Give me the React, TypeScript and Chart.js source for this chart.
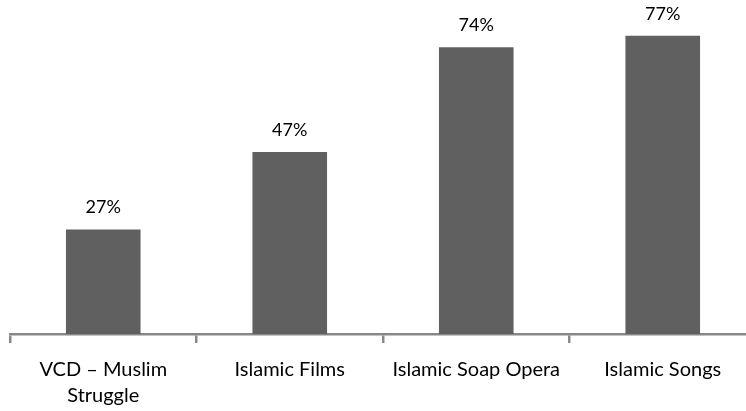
import React, { useEffect, useRef } from "react";
import { Chart, registerables } from "chart.js";

Chart.register(...registerables);

const categories: (string | string[])[] = [
  ["VCD – Muslim", "Struggle"],
  "Islamic Films",
  "Islamic Soap Opera",
  "Islamic Songs",
];
const values: number[] = [27, 47, 74, 77];
const valueLabels: string[] = ["27%", "47%", "74%", "77%"];

const barColor = "#606060";
const axisColor = "#888888";
const fontFamily = "Lato, 'Open Sans', sans-serif";

const dataLabelPlugin = {
  id: "dataLabels",
  afterDatasetsDraw(chart: any) {
    const ctx = chart.ctx;
    const meta = chart.getDatasetMeta(0);
    ctx.save();
    ctx.font = `18px ${fontFamily}`;
    ctx.fillStyle = "#000000";
    ctx.textAlign = "center";
    ctx.textBaseline = "alphabetic";
    meta.data.forEach((bar: any, i: number) => {
      ctx.fillText(valueLabels[i], bar.x, bar.y - 16);
    });
    ctx.restore();
  },
};

export default function App() {
  const canvasRef = useRef<HTMLCanvasElement | null>(null);

  useEffect(() => {
    if (!canvasRef.current) return;
    const chart = new Chart(canvasRef.current, {
      type: "bar",
      data: {
        labels: categories,
        datasets: [
          {
            data: values,
            backgroundColor: barColor,
            borderWidth: 0,
            barPercentage: 0.4,
            categoryPercentage: 1.0,
          },
        ],
      },
      options: {
        animation: false,
        responsive: true,
        maintainAspectRatio: false,
        layout: { padding: { left: 10, right: 10, top: 24, bottom: 0 } },
        plugins: {
          legend: { display: false },
          tooltip: { enabled: false },
        },
        scales: {
          y: {
            display: false,
            min: 0,
            max: 80,
          },
          x: {
            afterFit(scale: any) {
              scale.height = 77;
            },
            border: { display: true, color: axisColor, width: 2.5 },
            grid: {
              display: true,
              drawOnChartArea: false,
              drawTicks: true,
              tickLength: 9,
              color: axisColor,
              lineWidth: 2.5,
              offset: true,
            },
            ticks: {
              color: "#000000",
              padding: 14,
              maxRotation: 0,
              autoSkip: false,
              font: { family: fontFamily, size: 20, lineHeight: 1.3 },
            },
          },
        },
      },
      plugins: [dataLabelPlugin],
    });
    return () => chart.destroy();
  }, []);

  return (
    <div
      style={{
        position: "fixed",
        left: 0,
        top: 0,
        width: 746,
        height: 411,
        overflow: "hidden",
        background: "#ffffff",
      }}
    >
      <div style={{ position: "relative", width: 766, height: 411 }}>
        <canvas ref={canvasRef} />
      </div>
    </div>
  );
}
